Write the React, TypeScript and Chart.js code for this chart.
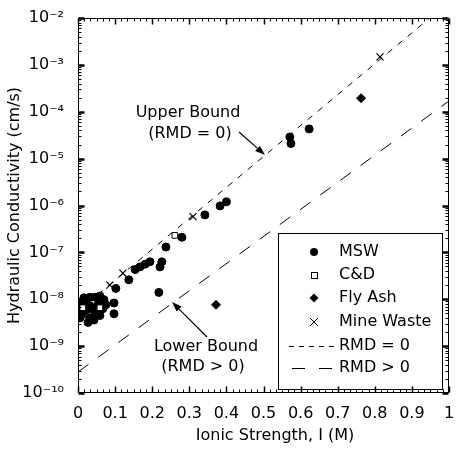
import React, { useEffect, useRef } from "react";
import { Chart, registerables } from "chart.js";

Chart.register(...registerables);

const FONT_FAMILY = "'DejaVu Sans', 'Liberation Sans', sans-serif";

// ---- data (Ionic strength I in M, hydraulic conductivity K in cm/s) ----
const mswIonic = [
  0.623, 0.571, 0.574, 0.4, 0.383, 0.342, 0.28, 0.237, 0.226, 0.221, 0.194, 0.181,
  0.167, 0.154, 0.137, 0.102, 0.218, 0.097, 0.097, 0.011, 0.022, 0.032, 0.046, 0.059,
  0.07, 0.022, 0.038, 0.054, 0.067, 0.011, 0.032, 0.049, 0.027, 0.005,
  0.016, 0.059, 0.075, 0.032, 0.016, 0.043, 0.059, 0.003, 0.003,
];
const mswK = [
  4.3e-5, 2.9e-5, 2.1e-5, 1.2e-6, 9.8e-7, 6.3e-7, 2.1e-7, 1.3e-7, 6.3e-8, 4.9e-8, 6.3e-8, 5.6e-8,
  4.9e-8, 4.3e-8, 2.6e-8, 1.7e-8, 1.4e-8, 8.3e-9, 4.9e-9, 7.6e-9, 9.8e-9, 1.1e-8, 1.1e-8, 1.17e-8,
  9.8e-9, 5.9e-9, 6.6e-9, 7.6e-9, 6.3e-9, 4.7e-9, 4.0e-9, 4.7e-9, 3.2e-9, 4.0e-9,
  1.07e-8, 8.7e-9, 7.6e-9, 7.3e-9, 7.3e-9, 3.6e-9, 4.5e-9, 6.6e-9, 8.5e-9,
];
const cdIonic = [0.261, 0.013, 0.059];
const cdK = [2.3e-7, 6.6e-9, 6.6e-9];
const flyAshIonic = [0.763, 0.372, 0.016, 0.043];
const flyAshK = [1.95e-4, 7.6e-9, 5.4e-9, 5.4e-9];
const mineIonic = [0.814, 0.31, 0.121, 0.086];
const mineK = [1.48e-3, 5.8e-7, 3.6e-8, 2.0e-8];
const upperBoundIonic = [0, 1];
const upperBoundK = [5.6e-9, 2.2e-2];
const lowerBoundIonic = [0, 1];
const lowerBoundK = [2.8e-10, 1.7e-4];

const xTickValues = [0, 0.1, 0.2, 0.3, 0.4, 0.5, 0.6, 0.7, 0.8, 0.9, 1];
const yTickExponents = [-10, -9, -8, -7, -6, -5, -4, -3, -2];

const xAxisTitle = "Ionic Strength, I (M)";
const yAxisTitle = "Hydraulic Conductivity (cm/s)";
const legendLabels = ["MSW", "C&D", "Fly Ash", "Mine Waste", "RMD = 0", "RMD > 0"];
const upperLabel = ["Upper Bound", "(RMD = 0)"];
const lowerLabel = ["Lower Bound", "(RMD > 0)"];

const SUP: Record<string, string> = {
  "-": "\u207B", "0": "\u2070", "1": "\u00B9", "2": "\u00B2", "3": "\u00B3",
  "4": "\u2074", "5": "\u2075", "6": "\u2076", "7": "\u2077", "8": "\u2078", "9": "\u2079",
};
const toSup = (s: string) => s.split("").map((c) => SUP[c] ?? c).join("");

const toPoints = (xs: number[], ys: number[]) => xs.map((x, i) => ({ x, y: ys[i] }));

const UPPER_DASH = [6, 7];
const LOWER_DASH = [13, 12];

function line(ctx: CanvasRenderingContext2D, x1: number, y1: number, x2: number, y2: number) {
  ctx.beginPath();
  ctx.moveTo(x1, y1);
  ctx.lineTo(x2, y2);
  ctx.stroke();
}

function arrow(ctx: CanvasRenderingContext2D, x1: number, y1: number, x2: number, y2: number) {
  const ang = Math.atan2(y2 - y1, x2 - x1);
  const head = 10;
  const half = 3.5;
  const bx = x2 - head * Math.cos(ang);
  const by = y2 - head * Math.sin(ang);
  ctx.lineWidth = 1.2;
  line(ctx, x1, y1, bx, by);
  ctx.beginPath();
  ctx.moveTo(x2, y2);
  ctx.lineTo(bx + half * Math.sin(ang), by - half * Math.cos(ang));
  ctx.lineTo(bx - half * Math.sin(ang), by + half * Math.cos(ang));
  ctx.closePath();
  ctx.fill();
}

const framePlugin = {
  id: "frameTicks",
  afterDraw(chart: any) {
    const { ctx, chartArea: a } = chart;
    const xs = chart.scales.x;
    const ys = chart.scales.y;
    ctx.save();
    ctx.strokeStyle = "#000";
    ctx.fillStyle = "#000";
    const L = Math.round(a.left) + 0.5;
    const R = Math.round(a.right) - 0.5;
    const T = Math.round(a.top) + 0.5;
    const B = Math.round(a.bottom) - 0.5;
    ctx.lineWidth = 1;
    ctx.strokeRect(L, T, R - L, B - T);
    for (let i = 0; i <= 60; i++) {
      const v = i / 60;
      const major = i % 6 === 0;
      const px = Math.round(xs.getPixelForValue(v)) + 0.5;
      const len = major ? 6 : 3;
      ctx.lineWidth = major ? 1.5 : 1;
      line(ctx, px, B, px, B - len);
      line(ctx, px, T, px, T + len);
    }
    for (const e of yTickExponents) {
      for (let m = 1; m <= 9; m++) {
        if (e === yTickExponents[yTickExponents.length - 1] && m > 1) break;
        const v = m * Math.pow(10, e);
        const py = Math.round(ys.getPixelForValue(v)) + 0.5;
        const major = m === 1;
        const len = major ? 6 : 3;
        ctx.lineWidth = major ? 2.5 : 1;
        line(ctx, L, py, L + len, py);
        line(ctx, R, py, R - len, py);
      }
    }
    ctx.font = `16px ${FONT_FAMILY}`;
    ctx.textAlign = "center";
    ctx.textBaseline = "middle";
    ctx.fillText(xAxisTitle, 275, 436);
    ctx.restore();
  },
};

const annotationPlugin = {
  id: "annotations",
  afterDatasetsDraw(chart: any) {
    const { ctx } = chart;
    ctx.save();
    ctx.fillStyle = "#000";
    ctx.strokeStyle = "#000";
    ctx.font = `16px ${FONT_FAMILY}`;
    ctx.textAlign = "center";
    ctx.textBaseline = "middle";
    ctx.fillText(upperLabel[0], 188, 113);
    ctx.fillText(upperLabel[1], 190, 134);
    ctx.fillText(lowerLabel[0], 206, 347);
    ctx.fillText(lowerLabel[1], 203, 367);
    arrow(ctx, 239, 132, 265, 155);
    arrow(ctx, 207, 337, 172, 302);

    const box = { l: 278.5, t: 233.5, r: 442.5, b: 389.5 };
    ctx.fillStyle = "#fff";
    ctx.fillRect(box.l, box.t, box.r - box.l, box.b - box.t);
    ctx.lineWidth = 1;
    ctx.strokeRect(box.l, box.t, box.r - box.l, box.b - box.t);
    ctx.fillStyle = "#000";
    const rows = [252, 275, 298, 322, 346, 368];
    const sx = 314;
    const tx = 339;
    ctx.textAlign = "left";
    legendLabels.forEach((lab, i) => {
      ctx.fillText(lab, tx, rows[i]);
    });
    ctx.beginPath();
    ctx.arc(sx, rows[0], 4, 0, Math.PI * 2);
    ctx.fill();
    ctx.lineWidth = 1;
    ctx.strokeRect(sx - 3 + 0.5, rows[1] - 3 + 0.5, 6, 6);
    ctx.beginPath();
    ctx.moveTo(sx, rows[2] - 4.5);
    ctx.lineTo(sx + 4.5, rows[2]);
    ctx.lineTo(sx, rows[2] + 4.5);
    ctx.lineTo(sx - 4.5, rows[2]);
    ctx.closePath();
    ctx.fill();
    line(ctx, sx - 4, rows[3] - 4, sx + 4, rows[3] + 4);
    line(ctx, sx - 4, rows[3] + 4, sx + 4, rows[3] - 4);
    ctx.setLineDash([5, 5]);
    line(ctx, 289, rows[4] + 0.5, 336, rows[4] + 0.5);
    ctx.setLineDash([13, 14]);
    line(ctx, 292, rows[5] + 0.5, 336, rows[5] + 0.5);
    ctx.setLineDash([]);
    ctx.restore();
  },
};

export default function App() {
  const canvasRef = useRef<HTMLCanvasElement | null>(null);

  useEffect(() => {
    if (!canvasRef.current) return;
    const chart = new Chart(canvasRef.current, {
      type: "scatter",
      data: {
        datasets: [
          {
            label: "MSW",
            data: toPoints(mswIonic, mswK),
            pointStyle: "circle",
            pointRadius: 4,
            pointBackgroundColor: "#000",
            pointBorderColor: "#000",
            pointBorderWidth: 1,
            order: 1,
          },
          {
            label: "C&D",
            data: toPoints(cdIonic, cdK),
            pointStyle: "rect",
            pointRadius: 4,
            pointBackgroundColor: "#fff",
            pointBorderColor: "#000",
            pointBorderWidth: 1,
            order: 0,
          },
          {
            label: "Fly Ash",
            data: toPoints(flyAshIonic, flyAshK),
            pointStyle: "rectRot",
            pointRadius: 4.5,
            pointBackgroundColor: "#000",
            pointBorderColor: "#000",
            pointBorderWidth: 1,
            order: 1,
          },
          {
            label: "Mine Waste",
            data: toPoints(mineIonic, mineK),
            pointStyle: "crossRot",
            pointRadius: 5,
            pointBorderColor: "#000",
            pointBorderWidth: 1.2,
            order: 1,
          },
          {
            type: "line",
            label: "RMD = 0",
            data: toPoints(upperBoundIonic, upperBoundK),
            borderColor: "#000",
            borderWidth: 1,
            borderDash: UPPER_DASH,
            pointRadius: 0,
            showLine: true,
            fill: false,
            order: 5,
          } as any,
          {
            type: "line",
            label: "RMD > 0",
            data: toPoints(lowerBoundIonic, lowerBoundK),
            borderColor: "#000",
            borderWidth: 1,
            borderDash: LOWER_DASH,
            pointRadius: 0,
            showLine: true,
            fill: false,
            order: 5,
          } as any,
        ],
      },
      options: {
        responsive: false,
        animation: false,
        devicePixelRatio: 1,
        layout: { padding: { left: 0, right: 10, top: 18, bottom: 0 } },
        plugins: {
          legend: { display: false },
          tooltip: { enabled: false },
        },
        scales: {
          x: {
            type: "linear",
            min: 0,
            max: 1,
            grid: { display: false },
            border: { display: false },
            afterBuildTicks: (s: any) => {
              s.ticks = xTickValues.map((v) => ({ value: v }));
            },
            afterFit: (s: any) => {
              s.height = 57;
            },
            ticks: {
              color: "#000",
              padding: 3,
              maxRotation: 0,
              autoSkip: false,
              font: { family: FONT_FAMILY, size: 16 },
              callback: (v: any) => {
                const n = Number(v);
                if (Math.abs(n) < 1e-9) return "0";
                if (Math.abs(n - 1) < 1e-9) return "1";
                return n.toFixed(1);
              },
            },
            title: { display: false },
          },
          y: {
            type: "logarithmic",
            min: 1e-10,
            max: 1e-2,
            grid: { display: false },
            border: { display: false },
            afterBuildTicks: (s: any) => {
              s.ticks = yTickExponents.map((e) => ({ value: Math.pow(10, e) }));
            },
            afterFit: (s: any) => {
              s.width = 78;
            },
            ticks: {
              color: "#000",
              padding: 6,
              autoSkip: false,
              font: { family: FONT_FAMILY, size: 16 },
              callback: (v: any) => "10" + toSup(String(Math.round(Math.log10(Number(v))))),
            },
            title: {
              display: true,
              text: yAxisTitle,
              color: "#000",
              font: { family: FONT_FAMILY, size: 16 },
              padding: { top: 5, bottom: 0 },
            },
          },
        },
      },
      plugins: [annotationPlugin, framePlugin],
    });
    return () => chart.destroy();
  }, []);

  return (
    <div style={{ position: "absolute", left: 0, top: 0, width: 459, height: 450, background: "#fff" }}>
      <canvas ref={canvasRef} width={459} height={450} style={{ width: 459, height: 450, display: "block" }} />
    </div>
  );
}
